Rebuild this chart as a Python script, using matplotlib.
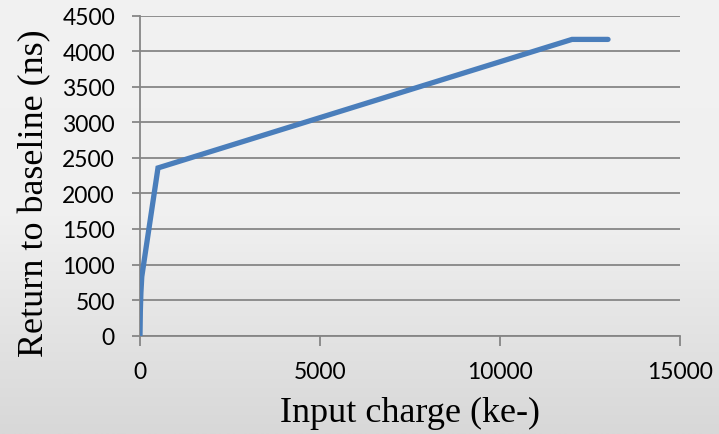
import numpy as np
import matplotlib
matplotlib.use("Agg")
import matplotlib.pyplot as plt

# input charge (ke-) vs return to baseline (ns)
charge = [0, 10, 25, 50, 500, 12000, 13000]
rtb = [0, 350, 600, 830, 2360, 4170, 4170]

xticks = [0, 5000, 10000, 15000]
yticks = [0, 500, 1000, 1500, 2000, 2500, 3000, 3500, 4000, 4500]

fig = plt.figure(figsize=(7.19, 4.35), dpi=100)

# gradient background like the Excel chart area
bg = fig.add_axes([0, 0, 1, 1], zorder=-10)
grad = np.linspace(0, 1, 256).reshape(-1, 1)
bg.imshow(grad, aspect="auto", cmap=matplotlib.colors.LinearSegmentedColormap.from_list(
    "bg", ["#f2f2f2", "#f0f0f0", "#d8d8d8"]), extent=[0, 1, 0, 1])
bg.axis("off")

ax = fig.add_axes([0.1947, 0.2264, 0.7511, 0.7346])
ax.patch.set_alpha(0)

ax.plot(charge, rtb, color="#4a7ebb", lw=3.8, solid_capstyle="round",
        solid_joinstyle="miter", zorder=3)

ax.set_xlim(0, 15000)
ax.set_ylim(0, 4500)
ax.set_xticks(xticks)
ax.set_yticks(yticks)
ax.yaxis.grid(True, color="#868686", lw=1.3)
ax.set_axisbelow(True)

for s in ["top", "right"]:
    ax.spines[s].set_visible(False)
ax.spines["left"].set_color("#868686")
ax.spines["bottom"].set_color("#868686")
ax.spines["left"].set_linewidth(1.3)
ax.spines["bottom"].set_linewidth(1.3)

ax.tick_params(axis="y", length=6, width=1.3, color="#868686", pad=12)
ax.tick_params(axis="x", length=7, width=1.3, color="#868686", pad=11)
for lab in ax.get_xticklabels() + ax.get_yticklabels():
    lab.set_fontfamily("Lato")
    lab.set_fontsize(16.5)
    lab.set_color("black")

ax.set_xlabel("Input charge (ke-)", family="Liberation Serif", fontsize=26)
ax.set_ylabel("Return to baseline (ns)", family="Liberation Serif", fontsize=26)
# label centres from the reference: x label at (410, 413) px, y label at (35, 193) px
ax.xaxis.set_label_coords((410 - 140) / 540, -(413 - 336.5) / 319.5, transform=ax.transAxes)
ax.xaxis.label.set_va("center")
ax.yaxis.set_label_coords(-(140 - 35) / 540, (336.5 - 193) / 319.5, transform=ax.transAxes)
ax.yaxis.label.set_va("center")

fig.savefig("out.png", dpi=100)
